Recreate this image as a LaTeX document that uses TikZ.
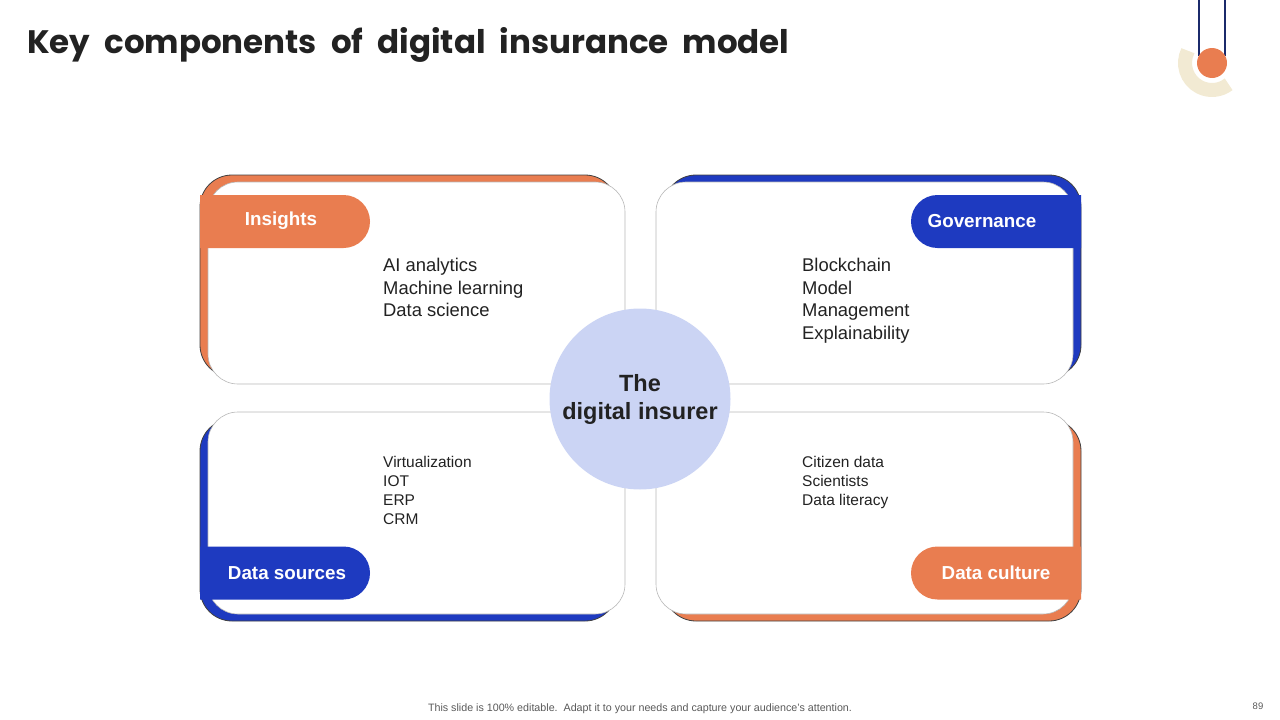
\documentclass[tikz,border=0pt]{standalone}
\usepackage{fontspec}
\setmainfont{Liberation Sans}
\newfontfamily\titlefont{Poppins}
\usetikzlibrary{positioning,shapes.misc}
\definecolor{insorange}{HTML}{E97D50}
\definecolor{insblue}{HTML}{1E3AC0}
\definecolor{circfill}{HTML}{CBD4F4}
\definecolor{decobeige}{HTML}{F2EAD3}
\definecolor{deconavy}{HTML}{1B2A6B}
\definecolor{textdark}{HTML}{222222}
\newcommand{\fs}[2]{\fontsize{#1}{#2}\selectfont}
\newcommand{\widespaces}{\spaceskip=14pt plus 2pt\relax}

\begin{document}
\begin{tikzpicture}[
    x=1pt, y=-1pt,
    back/.style={draw=black!75, line width=0.8pt, rounded corners=32pt,
        minimum width=417pt, minimum height=202pt, inner sep=0pt},
    card/.style={draw=black!28, line width=0.6pt, fill=white, rounded corners=30pt,
        minimum width=417pt, minimum height=202pt, inner sep=0pt},
    pill/.style={rounded rectangle, minimum width=170pt, minimum height=53pt, inner sep=0pt},
    pilltext/.style={text=white, font=\fs{18.8}{22}\bfseries},
    item/.style={text=textdark, font=\fs{18.4}{22}, anchor=base west, inner sep=0pt},
    smallitem/.style={text=textdark, font=\fs{15.5}{19}, anchor=base west, inner sep=0pt}
]
\useasboundingbox (0,0) rectangle (1280,720);

% title
\node[anchor=base west, inner sep=0pt, text=textdark,
    font=\titlefont\fs{32.5}{36}\bfseries] (title) at (27,53)
    {\widespaces Key components of digital insurance model};

% corner decoration
\draw[decobeige, line width=14pt] ([shift={(153:27pt)}]1212,63) arc[start angle=153, end angle=308, radius=27pt];
\draw[deconavy, line width=1.2pt] (1199,0) -- (1199,56) (1225,0) -- (1225,56);
\node[circle, fill=insorange, minimum size=30pt, inner sep=0pt] (dot) at (1212,63) {};

% coloured backs
\node[back, fill=insorange] (tlback) at (408.5,276) {};
\node[back, fill=insblue] (trback) at (872.5,276) {};
\node[back, fill=insblue] (blback) at (408.5,520) {};
\node[back, fill=insorange] (brback) at (872.5,520) {};

% white cards
\node[card] (tl) at (416.5,283) {};
\node[card] (tr) at (864.5,283) {};
\node[card] (bl) at (416.5,513) {};
\node[card] (br) at (864.5,513) {};

% labels
\node[pill, fill=insorange, rounded rectangle left arc=none] (insights) at (285,221.5) {};
\node[pilltext] at (281,221) {Insights};
\node[pill, fill=insblue, rounded rectangle right arc=none] (governance) at (996,221.5) {};
\node[pilltext] at (982,221) {Governance};
\node[pill, fill=insblue, rounded rectangle left arc=none] (datasources) at (285,573) {};
\node[pilltext] at (287,573) {Data sources};
\node[pill, fill=insorange, rounded rectangle right arc=none] (dataculture) at (996,573) {};
\node[pilltext] at (996,573) {Data culture};

% centre
\node[circle, fill=circfill, minimum size=181pt, inner sep=0pt, align=center,
    text=textdark, font=\fs{23.5}{28}\bfseries] (core) at (640,399) {The\\digital insurer};

% lists
\foreach \t [count=\i] in {AI analytics, Machine learning, Data science}
    \node[item] (ins\i) at (383,{249.1+22.5*\i}) {\t};
\foreach \t [count=\i] in {Blockchain, Model, Management, Explainability}
    \node[item] (gov\i) at (802,{249.1+22.5*\i}) {\t};
\foreach \t [count=\i] in {Virtualization, IOT, ERP, CRM}
    \node[smallitem] (src\i) at (383,{448.6+19*\i}) {\t};
\foreach \t [count=\i] in {Citizen data, Scientists, Data literacy}
    \node[smallitem] (cul\i) at (802,{448.6+19*\i}) {\t};

% footer
\node[anchor=base, inner sep=0pt, text=black!65, font=\fs{10.7}{12}] (foot) at (640,711)
    {This slide is 100\% editable.\ \ Adapt it to your needs and capture your audience's attention.};
\node[anchor=base, inner sep=0pt, text=black!65, font=\fs{9.5}{12}] (page) at (1258,709) {89};
\end{tikzpicture}
\end{document}
